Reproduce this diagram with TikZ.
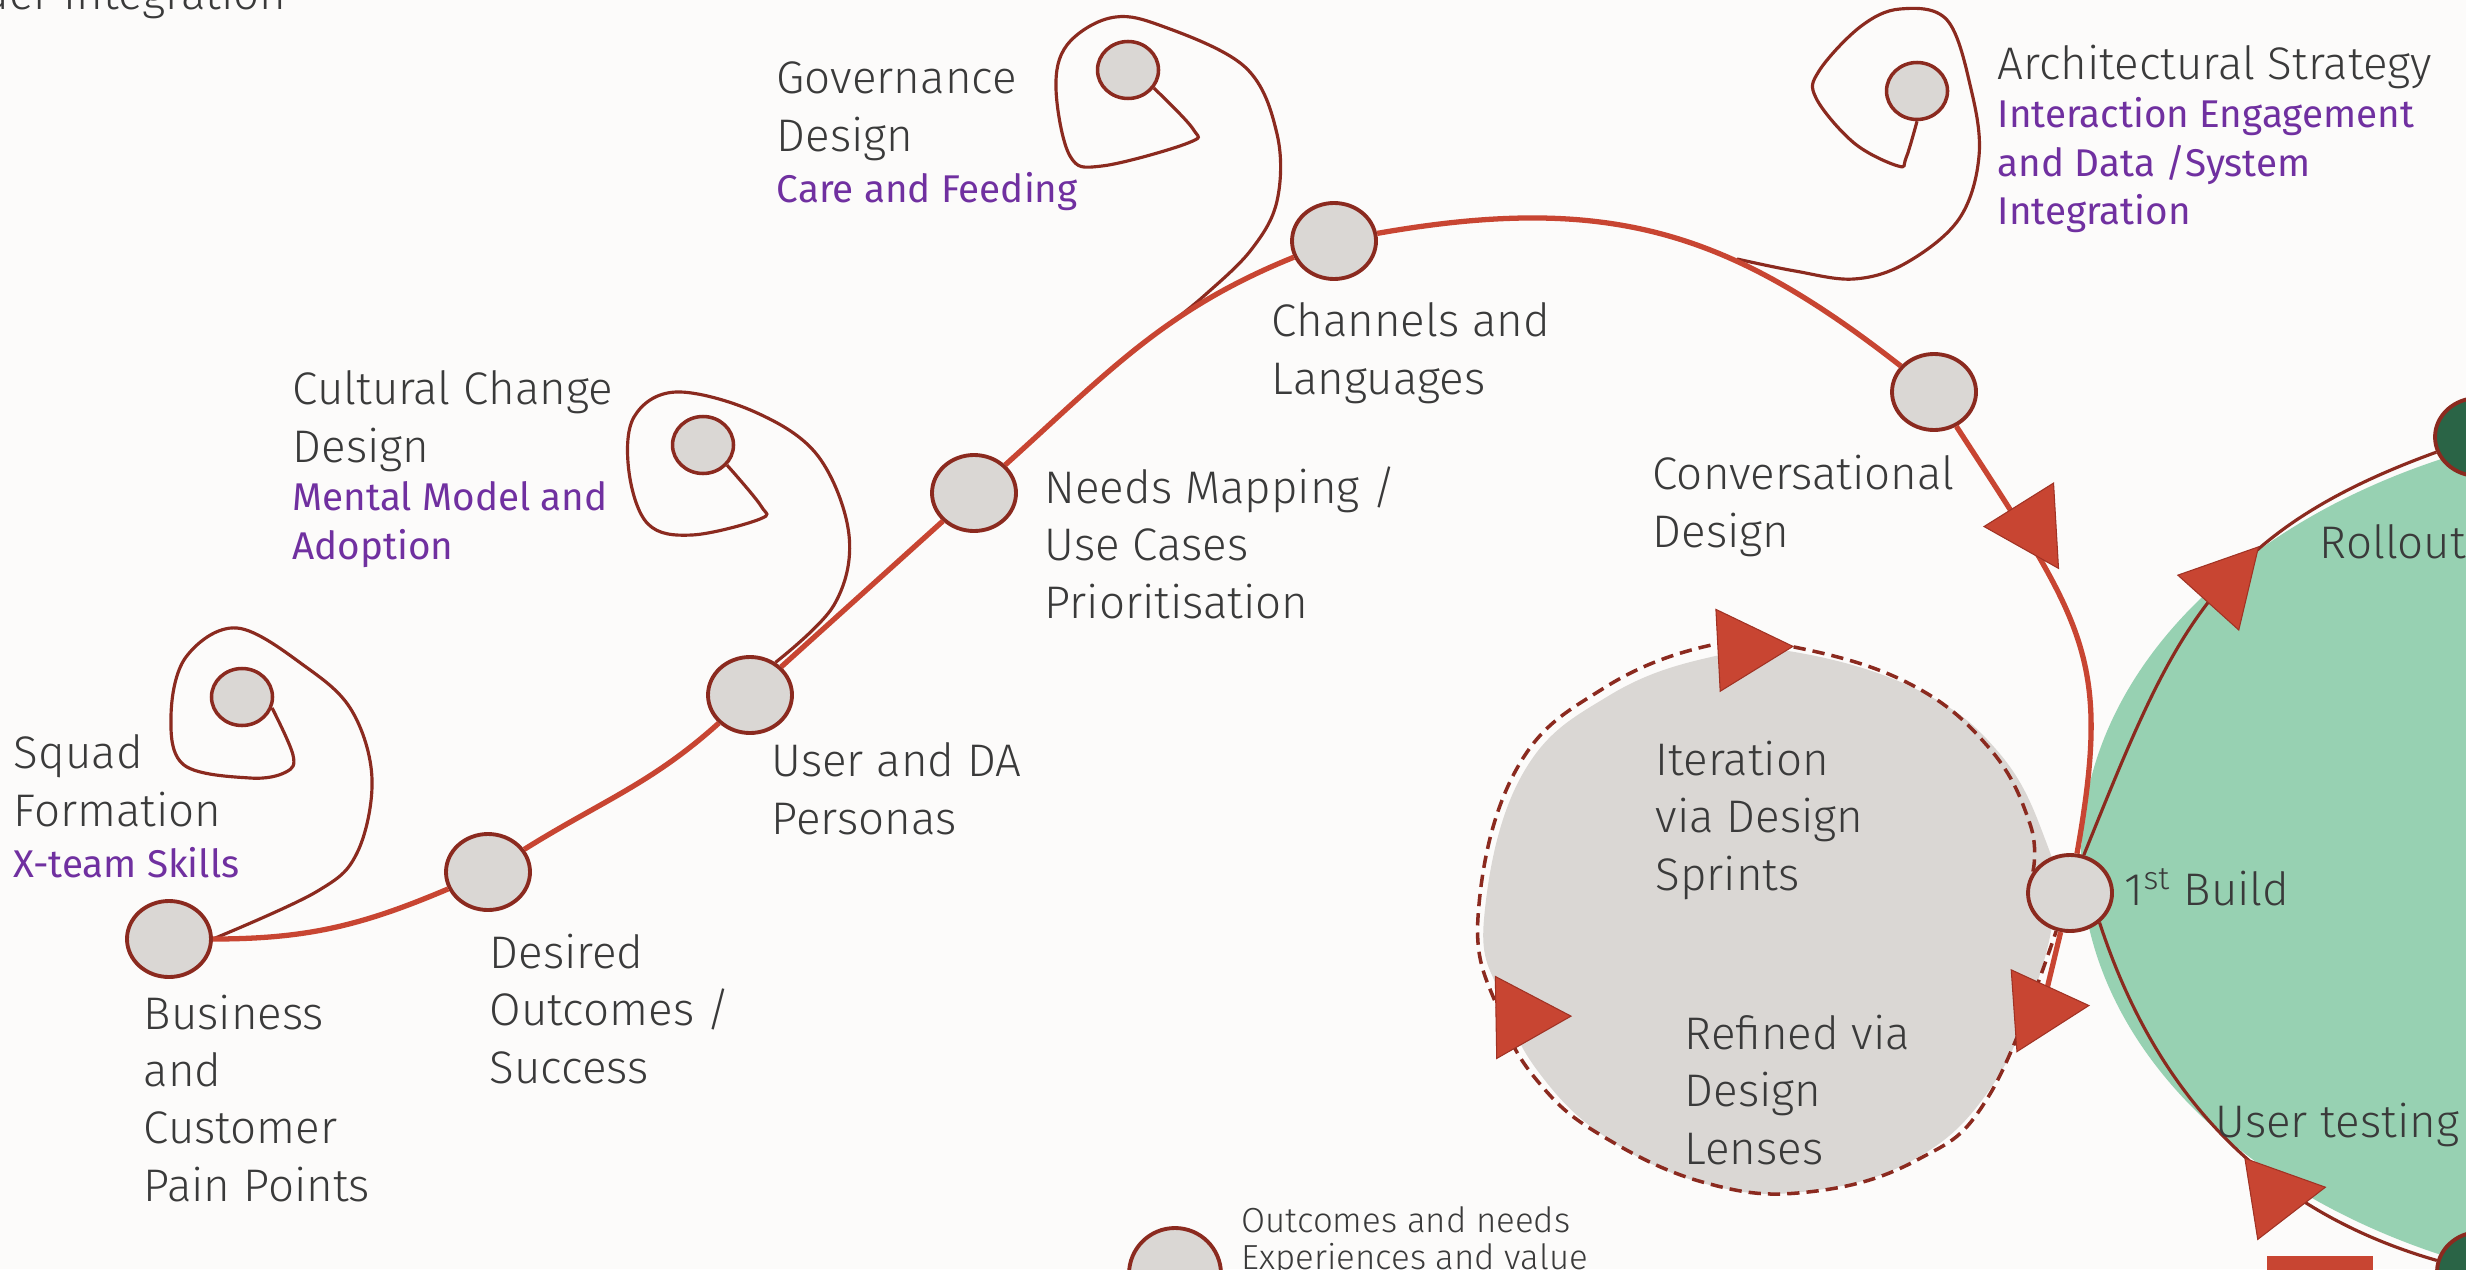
\documentclass[tikz,border=0pt]{standalone}
\usepackage{fontspec}
\setmainfont{Fira Sans}[UprightFont=* Light]
\newfontfamily\plumfont{Fira Sans}
\usetikzlibrary{shapes.geometric}
\definecolor{JnyRust}{RGB}{200,69,50}
\definecolor{JnyRustDark}{RGB}{160,50,36}
\definecolor{JnyMaroon}{RGB}{139,42,31}
\definecolor{JnyStone}{RGB}{218,215,212}
\definecolor{JnyMint}{RGB}{151,209,178}
\definecolor{JnyPine}{RGB}{42,100,70}
\definecolor{JnyPlum}{RGB}{112,48,160}
\definecolor{JnyInk}{RGB}{58,58,58}
\definecolor{JnyPaper}{RGB}{252,251,250}
\tikzset{
  jny/stop/.style={
    ellipse,
    draw=JnyMaroon,
    line width=1.1pt,
    fill=JnyStone,
    minimum width=0.84cm,
    minimum height=0.76cm,
    inner sep=0pt
  },
  jny/seed/.style={
    ellipse,
    draw=JnyMaroon,
    line width=1pt,
    fill=JnyStone,
    minimum width=0.61cm,
    minimum height=0.57cm,
    inner sep=0pt
  },
  jny/hub/.style={
    ellipse,
    draw=JnyMaroon,
    line width=1.1pt,
    fill=JnyPine,
    minimum width=0.86cm,
    minimum height=0.78cm,
    inner sep=0pt
  },
  jny/route/.style={draw=JnyRust, line width=1.5pt},
  jny/curl/.style={draw=JnyMaroon, line width=0.9pt},
  jny/ring/.style={draw=JnyMaroon, line width=0.9pt},
  jny/sprint/.style={draw=JnyMaroon, line width=1pt, dash pattern=on 3.5pt off 2pt},
  % multi-line labels sit on the baseline of their last line
  jny/label/.style={anchor=base west, align=left, inner sep=0pt, text=JnyInk, font=\fontsize{13}{16.3}\selectfont},
  jny/sublabel/.style={anchor=base west, align=left, inner sep=0pt, text=JnyPlum, font=\plumfont\fontsize{11}{13.9}\selectfont},
  jny/note/.style={anchor=base west, align=left, inner sep=0pt, text=JnyInk, font=\fontsize{9.9}{10.3}\selectfont},
  jny/tri/.pic={
    \filldraw[fill=JnyRust, draw=JnyRustDark, line width=0.3pt] (0.5,0) -- (-0.25,0.41) -- (-0.25,-0.41) -- cycle;
  }
}

\begin{document}
\begin{tikzpicture}[x=1cm,y=1cm]
  \useasboundingbox (0,0) rectangle (24.66,12.69);
  \fill[JnyPaper] (0,0) rectangle (24.66,12.69);

  % sprint blob and build zone
  \fill[JnyStone] plot[smooth cycle, tension=0.7] coordinates {
    (20.55,3.70) (20.45,4.30) (20.00,5.15) (19.20,5.78) (18.00,6.16) (17.20,6.14)
    (16.10,5.74) (15.22,4.94) (14.84,3.50) (15.02,2.70) (15.40,1.95) (16.10,1.29)
    (17.10,0.84) (18.10,0.78) (19.15,1.10) (19.90,1.80) (20.35,2.80)};
  \fill[JnyMint] (27.05,4.12) ellipse [x radius=6.24, y radius=4.39];
  \fill[JnyRust] (22.67,-0.10) rectangle (23.73,0.13);

  % stops on the route
  \node[jny/stop] (biz) at (1.69,3.30) {};
  \node[jny/stop] (outc) at (4.88,3.97) {};
  \node[jny/stop] (pers) at (7.50,5.74) {};
  \node[jny/stop] (needs) at (9.74,7.76) {};
  \node[jny/stop] (chan) at (13.34,10.28) {};
  \node[jny/stop] (conv) at (19.34,8.77) {};
  \node[jny/stop] (build) at (20.70,3.76) {};
  \node[jny/stop, minimum width=0.92cm, minimum height=0.92cm] (keynode) at (11.75,-0.05) {};
  \node[jny/hub] (gtop) at (24.78,8.32) {};
  \node[jny/hub, minimum height=0.80cm] (gbot) at (24.80,-0.03) {};

  % design threads
  \node[jny/seed] (squad) at (2.42,5.72) {};
  \node[jny/seed] (cult) at (7.03,8.24) {};
  \node[jny/seed] (gov) at (11.28,11.99) {};
  \node[jny/seed] (arch) at (19.17,11.78) {};
  \coordinate (govtail) at (11.68,9.44);
  \coordinate (archtail) at (17.37,10.10);
  \coordinate (tail) at (20.45,2.72);

  \draw[jny/curl] plot[smooth, tension=0.6] coordinates {(squad.-20) (2.93,5.14) (2.86,4.97)
    (2.50,4.91) (1.84,5.04) (1.71,5.53) (1.86,6.12) (2.37,6.41) (3.06,6.02) (3.52,5.58)
    (3.72,4.90) (3.57,4.16) (3.16,3.77) (biz.east)};
  \draw[jny/curl] plot[smooth, tension=0.6] coordinates {(cult.-40) (7.61,7.63) (7.60,7.50)
    (6.92,7.34) (6.48,7.45) (6.29,7.97) (6.34,8.52) (6.76,8.77) (7.55,8.57) (8.18,8.13)
    (8.49,7.34) (8.34,6.64) (pers.52)};
  \draw[jny/curl] plot[smooth, tension=0.6] coordinates {(gov.-35) (11.93,11.40) (11.88,11.26)
    (11.02,11.03) (10.70,11.13) (10.56,11.80) (10.67,12.24) (11.10,12.51) (11.59,12.44)
    (12.45,12.02) (12.77,11.35) (12.77,10.68) (12.51,10.19) (12.05,9.74) (govtail)};
  \draw[jny/curl] plot[smooth, tension=0.6] coordinates {(arch.south) (19.06,11.11) (18.98,11.03)
    (18.54,11.26) (18.16,11.71) (18.19,11.98) (18.60,12.42) (19.00,12.60) (19.47,12.49)
    (19.71,11.80) (19.79,11.13) (19.59,10.50) (19.06,10.06) (18.54,9.90) (17.95,9.98) (archtail)};

  % main route
  \draw[jny/route] (biz) to[out=0,in=203] (outc);
  \draw[jny/route] (outc) to[out=32,in=222] (pers);
  \draw[jny/route] (pers) -- (needs);
  \draw[jny/route] (needs) to[out=42,in=202] (chan);
  \draw[jny/route] (chan) .. controls +(10:2.8) and +(142:2.6) .. (conv);
  \draw[jny/route] (conv) .. controls +(-57:2.8) and +(80:2.4) .. (build);
  \draw[jny/route] (build) -- (tail);

  % build loop
  \draw[jny/ring] (build.70) .. controls +(68:2.4) and +(200:2.4) .. (gtop.200);
  \draw[jny/ring] (build.-45) .. controls +(-72:1.8) and +(164:1.8) .. (gbot.165);
  \draw[jny/sprint] plot[smooth, tension=0.7] coordinates {(build.150) (20.30,4.45) (19.90,5.20)
    (19.10,5.85) (17.94,6.22) (17.16,6.25) (16.04,5.81) (15.16,4.99) (14.78,3.52)
    (15.00,2.55) (15.40,1.85) (16.04,1.32) (17.06,0.86) (18.08,0.77) (19.17,1.09)
    (19.90,1.75) (build.-110)};

  % direction markers
  \pic[rotate=-58] at (20.32,7.43) {jny/tri};
  \pic[rotate=48] at (22.25,6.85) {jny/tri};
  \pic[rotate=9] at (22.76,0.74) {jny/tri};
  \pic[rotate=3] at (17.43,6.20) {jny/tri};
  \pic[rotate=1] at (15.21,2.52) {jny/tri};
  \pic[rotate=4] at (20.39,2.60) {jny/tri};

  % labels
  \node[jny/label, anchor=base east] (title) at (2.87,12.59) {der Integration};
  \node[jny/label] (squadtxt) at (0.13,4.43) {Squad\\Formation};
  \node[jny/sublabel] (squadsub) at (0.13,3.92) {X-team Skills};
  \node[jny/label] (biztxt) at (1.43,0.68) {Business\\and\\Customer\\Pain Points};
  \node[jny/label] (outctxt) at (4.89,1.86) {Desired\\Outcomes /\\Success};
  \node[jny/label] (perstxt) at (7.71,4.35) {User and DA\\Personas};
  \node[jny/label] (culttxt) at (2.92,8.07) {Cultural Change\\Design};
  \node[jny/sublabel] (cultsub) at (2.92,7.10) {Mental Model and\\Adoption};
  \node[jny/label] (needstxt) at (10.44,6.51) {Needs Mapping /\\Use Cases\\Prioritisation};
  \node[jny/label] (govtxt) at (7.76,11.18) {Governance\\Design};
  \node[jny/sublabel] (govsub) at (7.76,10.66) {Care and Feeding};
  \node[jny/label] (chantxt) at (12.71,8.75) {Channels and\\Languages};
  \node[jny/label] (archtxt) at (19.97,11.89) {Architectural Strategy};
  \node[jny/sublabel] (archsub) at (19.97,10.44) {Interaction Engagement\\and Data /System\\Integration};
  \node[jny/label] (convtxt) at (16.52,7.22) {Conversational\\Design};
  \node[jny/label] (itertxt) at (16.55,3.79) {Iteration\\via Design\\Sprints};
  \node[jny/label] (reftxt) at (16.84,1.05) {Refined via\\Design\\Lenses};
  \node[jny/label] (buildtxt) at (21.24,3.64) {1\textsuperscript{st} Build};
  \node[jny/label] (rolltxt) at (23.19,7.11) {Rollout};
  \node[jny/label] (usertxt) at (22.15,1.32) {User testing};
  \node[jny/note] (keytxt) at (12.41,0.00) {Outcomes and needs\\Experiences and value};
\end{tikzpicture}
\end{document}
